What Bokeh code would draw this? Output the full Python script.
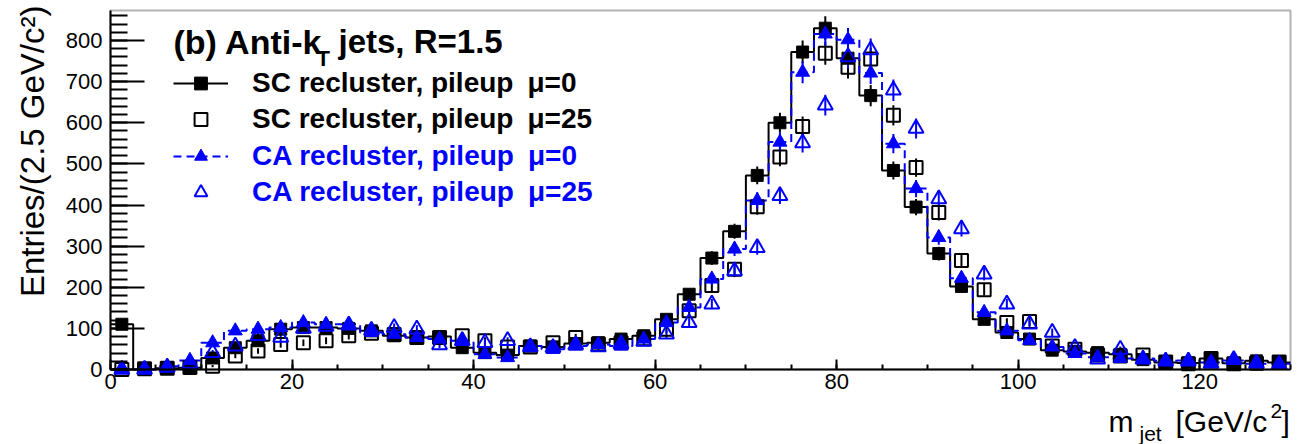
import numpy as np
from bokeh.plotting import figure
from bokeh.models import (Range1d, SingleIntervalTicker, Label, Legend, LegendItem,
                          LinearAxis, BoxAnnotation)
from bokeh.embed import file_html
from bokeh.resources import INLINE

# Jet-mass histograms, 2.5 GeV/c^2 bins from 0 to 130 GeV/c^2
bin_width = 2.5
m_min, m_max = 0.0, 130.0
y_max = 873

sc_mu0 = [110, 0, 3, 4, 28, 53, 70, 98, 102, 102, 100, 94, 82, 78, 80, 53, 41, 35,
          57, 55, 63, 65, 74, 82, 122, 183, 271, 336, 472, 600, 772, 830, 757, 666,
          484, 395, 282, 202, 122, 90, 74, 47, 44, 41, 37, 24, 17, 16, 27, 15, 21, 17]
sc_mu25 = [0, 2, 3, 5, 8, 33, 45, 61, 65, 70, 82, 88, 85, 78, 78, 82, 70, 55,
           55, 65, 78, 62, 65, 75, 98, 143, 204, 244, 396, 517, 591, 769, 735, 755,
           618, 491, 382, 265, 194, 114, 117, 57, 49, 35, 33, 35, 18, 14, 27, 14, 15, 18]
ca_mu0 = [0, 0, 8, 22, 65, 94, 98, 102, 114, 110, 110, 90, 86, 78, 74, 70, 37, 29,
          57, 49, 57, 61, 57, 74, 114, 151, 220, 293, 411, 553, 723, 816, 802, 721,
          549, 440, 321, 222, 139, 94, 71, 55, 39, 30, 27, 27, 21, 22, 17, 22, 14, 14]
ca_mu25 = [0, 0, 5, 15, 41, 57, 82, 78, 100, 105, 108, 95, 102, 98, 60, 70, 65, 70,
           55, 53, 60, 55, 62, 68, 86, 114, 159, 240, 296, 423, 551, 643, 760, 777,
           679, 586, 415, 342, 232, 159, 110, 90, 53, 25, 49, 25, 20, 20, 15, 24, 15, 12]

BLUE = "#0000ff"
FONT = "Liberation Sans"

# page geometry (pixels): the data box sits inside the canvas with room for titles
W, H = 1308, 444
BOX_L, BOX_R, BOX_T, BOX_B = 110, 1290, 10, 369

edges = np.arange(m_min, m_max + bin_width / 2, bin_width)
centers = edges[:-1] + bin_width / 2

# ranges chosen so that the whole canvas is the plotting frame
px_per_x = (BOX_R - BOX_L) / (m_max - m_min)
px_per_y = (BOX_B - BOX_T) / y_max
x_range = Range1d(m_min - BOX_L / px_per_x, m_max + (W - BOX_R) / px_per_x)
y_range = Range1d(-(H - BOX_B) / px_per_y, y_max + BOX_T / px_per_y)

p = figure(width=W, height=H, output_backend="svg", toolbar_location=None,
           x_range=x_range, y_range=y_range, x_axis_type=None, y_axis_type=None,
           min_border=0, min_border_left=0, min_border_right=0,
           min_border_top=0, min_border_bottom=0)
p.xgrid.visible = False
p.ygrid.visible = False
p.outline_line_color = None
p.background_fill_color = "white"
p.border_fill_color = "white"

xaxis = LinearAxis(fixed_location=0, bounds=(m_min, m_max),
                   ticker=SingleIntervalTicker(interval=20, num_minor_ticks=4))
yaxis = LinearAxis(fixed_location=m_min, bounds=(0, y_max),
                   ticker=SingleIntervalTicker(interval=100, num_minor_ticks=5))
for ax in (xaxis, yaxis):
    ax.axis_line_width = 2
    ax.major_tick_line_width = 2
    ax.minor_tick_line_width = 2
    ax.major_tick_out = 0
    ax.minor_tick_out = 0
    ax.major_label_text_font = FONT
    ax.major_label_text_font_size = "22px"
    ax.major_label_text_color = "black"
xaxis.major_tick_in = 10
xaxis.minor_tick_in = 5
yaxis.major_tick_in = 34
yaxis.minor_tick_in = 17
xaxis.major_label_standoff = 4
yaxis.major_label_standoff = 8
p.add_layout(xaxis, "below")
p.add_layout(yaxis, "left")

# frame around the data region
p.add_layout(BoxAnnotation(left=m_min, right=m_max, bottom=0, top=y_max,
                           fill_alpha=0, line_color="black", line_width=2))


def hist_steps(vals):
    v = list(vals)
    return edges, v + [v[-1]]


def add_errors(vals, color):
    v = np.asarray(vals, dtype=float)
    e = np.sqrt(v)
    p.segment(centers, v - e, centers, v + e, line_color=color, line_width=2)


# step outlines
ex, ey = hist_steps(sc_mu0)
r_sc0_line = p.step(ex, ey, mode="after", line_color="black", line_width=2)
ex, ey = hist_steps(ca_mu0)
r_ca0_line = p.step(ex, ey, mode="after", line_color=BLUE, line_width=2,
                    line_dash="8 5")

# error bars
add_errors(sc_mu0, "black")
add_errors(sc_mu25, "black")
add_errors(ca_mu0, BLUE)
add_errors(ca_mu25, BLUE)

# markers
r_sc0 = p.scatter(centers, sc_mu0, marker="square", size=12,
                  fill_color="black", line_color="black", line_width=1)
r_sc25 = p.scatter(centers, sc_mu25, marker="square", size=13,
                   fill_color=None, line_color="black", line_width=2)
r_ca0 = p.scatter(centers, ca_mu0, marker="triangle", size=14,
                  fill_color=BLUE, line_color=BLUE, line_width=1)
r_ca25 = p.scatter(centers, ca_mu25, marker="triangle", size=15,
                   fill_color=None, line_color=BLUE, line_width=2)


def make_legend(items, color, top_px):
    n = len(items)
    height = n * 32 + (n - 1) * 4
    leg = Legend(items=items, location=(173, H - (top_px + height)),
                 orientation="vertical", padding=0, margin=0, spacing=4,
                 glyph_width=55, glyph_height=32, label_height=32,
                 label_standoff=24, border_line_color=None,
                 background_fill_alpha=0,
                 label_text_font=FONT, label_text_font_size="28px",
                 label_text_font_style="bold", label_text_color=color)
    p.add_layout(leg)


make_legend([LegendItem(label="SC recluster, pileup\u2002\u03bc=0",
                        renderers=[r_sc0_line, r_sc0]),
             LegendItem(label="SC recluster, pileup\u2002\u03bc=25",
                        renderers=[r_sc25])], "black", 67)
make_legend([LegendItem(label="CA recluster, pileup\u2002\u03bc=0",
                        renderers=[r_ca0_line, r_ca0]),
             LegendItem(label="CA recluster, pileup\u2002\u03bc=25",
                        renderers=[r_ca25])], BLUE, 140)


def add_text(text, cx, cy, size, bold=False, color="black", angle=0.0,
             align="left"):
    # (cx, cy): left/right end and vertical middle of the text, canvas pixels
    p.add_layout(Label(x=cx, y=H - cy, x_units="screen", y_units="screen",
                       text=text, text_font=FONT, text_font_size=f"{size}px",
                       text_font_style="bold" if bold else "normal",
                       text_color=color, text_baseline="middle",
                       text_align=align, angle=angle))


# panel title
add_text("(b) Anti-k", 173, 41, 34, bold=True)
add_text("T", 316, 58, 22, bold=True)
add_text("jets, R=1.5", 338, 41, 33, bold=True)

# x-axis title
add_text("m", 1108, 421, 30)
add_text("jet", 1139, 433, 21)
add_text("[GeV/c", 1175, 421, 30)
add_text("2", 1270, 410, 21)
add_text("]", 1281, 421, 30)

# y-axis title
add_text("Entries/(2.5 GeV/c\u00b2)", 32, 5, 33, angle=np.pi / 2, align="right")

open("out.html", "w").write(file_html(p, INLINE))
